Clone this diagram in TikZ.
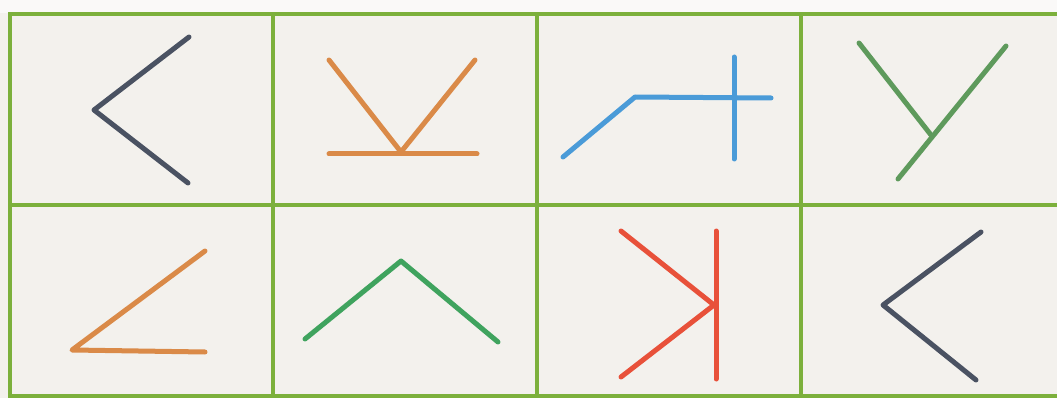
\documentclass[tikz,border=0pt]{standalone}
\definecolor{paper}{HTML}{F3F1ED}
\definecolor{gridgreen}{HTML}{7CB03C}
\definecolor{slate}{HTML}{4A5262}
\definecolor{orng}{HTML}{DA8A48}
\definecolor{skyblue}{HTML}{4A9BD8}
\definecolor{leaf}{HTML}{5E9A5C}
\definecolor{grass}{HTML}{3FA35E}
\definecolor{tomato}{HTML}{E8513A}
\begin{document}
\begin{tikzpicture}[x=1pt,y=-1pt,
  gridline/.style={draw=gridgreen,line width=3.8pt},
  stroke/.style={line width=5pt,line cap=round,line join=round}]
\useasboundingbox (0,0) rectangle (1057,398);
\clip (0,0) rectangle (1057,398);
\fill[paper] (0,0) rectangle (1057,398);
\fill[white!60!paper] (0,0) rectangle (1057,13);
% grid
\foreach \x in {10,273,537,801}{\draw[gridline] (\x,14) -- (\x,397);}
\foreach \y in {14,205,396}{\draw[gridline] (8,\y) -- (1070,\y);}
% cell 1
\draw[stroke,slate] (189,37) -- (94,110) -- (188,183);
% cell 2
\draw[stroke,orng] (329,60) -- (401,152) -- (475,60);
\draw[stroke,orng] (329,154) -- (477,154);
% cell 3
\draw[stroke,skyblue] (563,157) -- (635,97) -- (771,98);
\draw[stroke,skyblue] (734,57) -- (734,159);
% cell 4
\draw[stroke,leaf] (1006,46) -- (898,179);
\draw[stroke,leaf] (859,43) -- (931,135);
% cell 5
\draw[stroke,orng] (205,251) -- (72,350) -- (205,352);
% cell 6
\draw[stroke,grass] (305,339) -- (401,261) -- (498,342);
% cell 7
\draw[stroke,tomato] (621,231) -- (714,305) -- (621,377);
\draw[stroke,tomato] (716,231) -- (716,379);
% cell 8
\draw[stroke,slate] (981,232) -- (883,305) -- (976,380);
\end{tikzpicture}
\end{document}
